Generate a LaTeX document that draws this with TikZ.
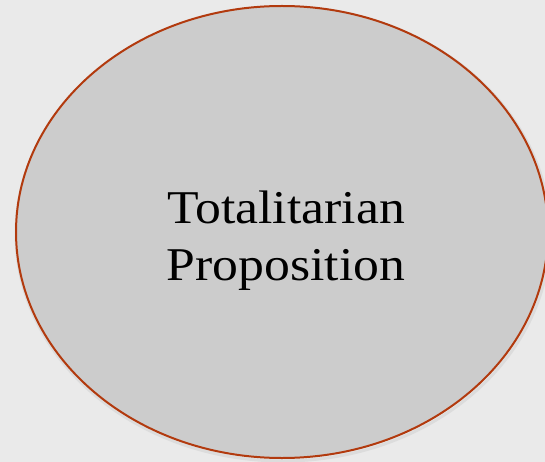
\documentclass[tikz,border=0pt]{standalone}
\usepackage{fontspec}
\setmainfont{Liberation Serif}[FakeStretch=1.1]
\usetikzlibrary{shapes.geometric}
\definecolor{bgcol}{HTML}{EAEAEA}
\definecolor{fillcol}{HTML}{CCCCCC}
\definecolor{edgecol}{RGB}{178,58,14}
\definecolor{shadecol}{HTML}{DCDCDC}
\tikzset{
  bubble/.style={ellipse, draw=edgecol, fill=fillcol, line width=2pt,
    minimum width=532pt, minimum height=452pt, inner sep=0pt, outer sep=0pt},
  shade ring/.style={ellipse, draw=shadecol, line width=3pt,
    minimum width=534pt, minimum height=454pt, inner sep=0pt},
  caption/.style={align=center, inner sep=0pt, font=\fontsize{47}{57}\selectfont}
}
\begin{document}
\begin{tikzpicture}[x=1pt,y=-1pt]
  \fill[bgcol] (0,0) rectangle (545,462);
  \useasboundingbox (0,0) rectangle (545,462);
  \clip (0,0) rectangle (545,462);
  \node[shade ring] (shadow) at (283,234) {};
  \node[bubble] (prop) at (282,232) {};
  \node[caption] (txt) at (286,241) {Totalitarian\\Proposition};
\end{tikzpicture}
\end{document}
